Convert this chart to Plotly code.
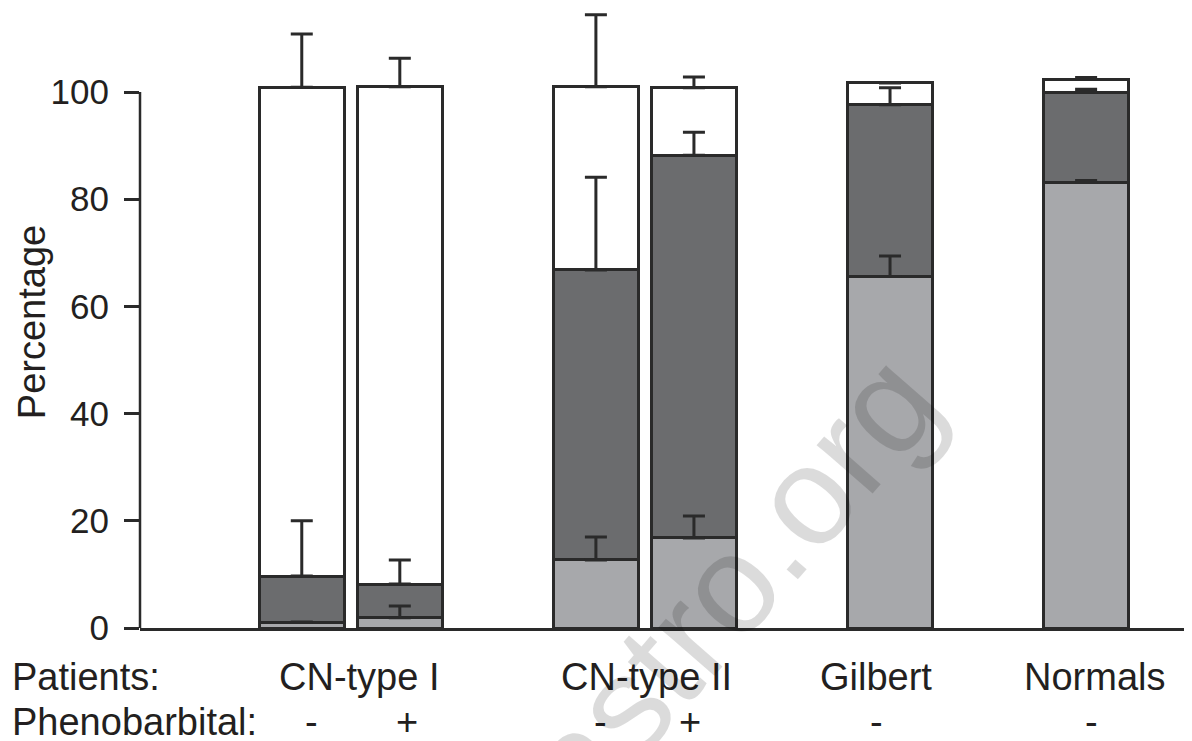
import numpy as np
import plotly.graph_objects as go

# ---- data ----
bar_x = [0, 1, 3, 4, 6, 8]
light_vals = [1.1, 1.9, 12.7, 16.8, 65.6, 83.2]
dark_vals = [8.6, 6.3, 54.1, 71.4, 32.0, 16.8]
white_vals = [91.2, 92.8, 34.2, 12.6, 4.1, 2.4]
light_err = [None, 2.2, 4.3, 4.1, 3.8, 0.3]
dark_err = [10.3, 4.5, 17.3, 4.3, 3.2, 0.5]
white_err = [9.9, 5.3, 13.4, 2.0, None, 0.3]

patients = ["CN-type I", "CN-type II", "Gilbert", "Normals"]
patients_x = [0.58, 3.52, 5.86, 8.09]
pheno = ["-", "+", "-", "+", "-", "-"]
pheno_x = [0.1, 1.07, 3.05, 3.96, 5.86, 8.05]
y_ticks = [0, 20, 40, 60, 80, 100]

LIGHT = "#a7a8ab"
DARK = "#6b6c6e"
WHITE = "#ffffff"
EDGE = "#2a2a2a"
TXT = "#231f20"
FONT = "Liberation Sans, Arial, Helvetica, sans-serif"
LBL = 38

fig = go.Figure()
for vals, col in [(light_vals, LIGHT), (dark_vals, DARK), (white_vals, WHITE)]:
    fig.add_trace(go.Bar(
        x=bar_x, y=vals, width=0.87,
        marker=dict(color=col, line=dict(color=EDGE, width=3)),
        showlegend=False, hoverinfo="skip"))

# error bars on top of each stacked segment
tops = np.cumsum(np.array([light_vals, dark_vals, white_vals]), axis=0)
for top, err in zip(tops, [light_err, dark_err, white_err]):
    e = [np.nan if v is None else v for v in err]
    fig.add_trace(go.Scatter(
        x=bar_x, y=top, mode="markers",
        marker=dict(size=1, color="rgba(0,0,0,0)"),
        error_y=dict(type="data", array=e, arrayminus=[0] * len(e),
                     symmetric=False, color=EDGE, thickness=3, width=11),
        showlegend=False, hoverinfo="skip"))

annotations = []
for name, xp in zip(patients, patients_x):
    annotations.append(dict(x=xp, y=-0.079, xref="x", yref="paper", text=name,
                            showarrow=False, xanchor="center", yanchor="middle",
                            font=dict(size=LBL, color=TXT, family=FONT)))
for s, xp in zip(pheno, pheno_x):
    annotations.append(dict(x=xp, y=-0.152, xref="x", yref="paper", text=s,
                            showarrow=False, xanchor="center", yanchor="middle",
                            font=dict(size=LBL, color=TXT, family=FONT)))
annotations.append(dict(x=-0.1236, y=-0.079, xref="paper", yref="paper", text="Patients:",
                        showarrow=False, xanchor="left", yanchor="middle",
                        font=dict(size=LBL, color=TXT, family=FONT)))
annotations.append(dict(x=-0.1236, y=-0.152, xref="paper", yref="paper", text="Phenobarbital:",
                        showarrow=False, xanchor="left", yanchor="middle",
                        font=dict(size=LBL, color=TXT, family=FONT)))
annotations.append(dict(x=-0.102, y=57, xref="paper", yref="y", text="Percentage",
                        showarrow=False, textangle=-90, xanchor="center", yanchor="middle",
                        font=dict(size=LBL, color=TXT, family=FONT)))
# watermark
annotations.append(dict(x=0.561, y=0.0715, xref="paper", yref="paper", text="astro.org",
                        showarrow=False, textangle=-49, xanchor="center", yanchor="middle",
                        font=dict(size=140, color="rgba(0,0,0,0.14)", family=FONT)))

fig.update_layout(
    barmode="stack",
    width=1192, height=741,
    margin=dict(l=132, r=8, t=2, b=121),
    plot_bgcolor="white", paper_bgcolor="white",
    showlegend=False,
    annotations=annotations,
    shapes=[dict(type="line", xref="paper", yref="y", x0=0, x1=0, y0=0, y1=100,
                 line=dict(color=EDGE, width=2.5))],
    xaxis=dict(range=[-1.65, 9.08], showline=True, linecolor=EDGE, linewidth=2.5,
               showticklabels=False, ticks="", showgrid=False, zeroline=False),
    yaxis=dict(range=[0, 115.3], tickvals=y_ticks, ticks="outside", ticklen=15,
               tickwidth=2.5, tickcolor=EDGE, showline=False, showgrid=False,
               zeroline=False, ticklabelstandoff=8,
               tickfont=dict(size=35, color=TXT, family=FONT)),
)

fig.write_html("out.html")
